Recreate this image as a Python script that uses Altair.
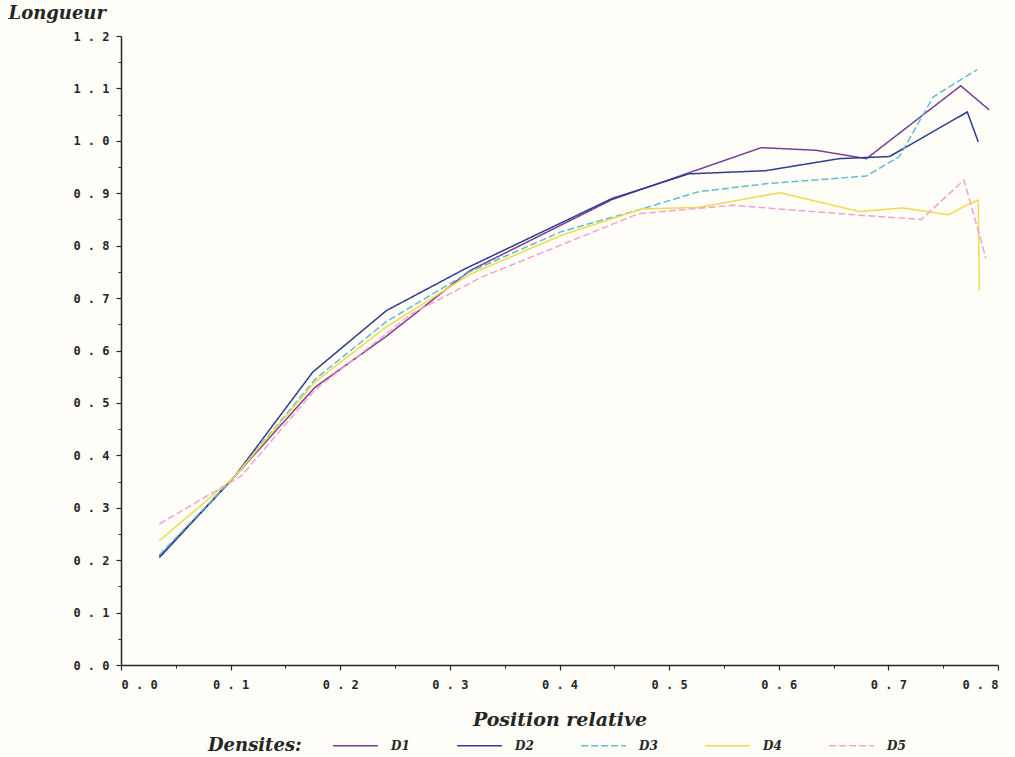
import altair as alt
import pandas as pd

# Series names
series = ["D1", "D2", "D3", "D4", "D5"]

# Relative position (x) and length (y) for each density
d1_x = [0.035, 0.103, 0.177, 0.242, 0.318, 0.448, 0.584, 0.634, 0.680, 0.766, 0.792]
d1_y = [0.207, 0.358, 0.530, 0.627, 0.752, 0.888, 0.987, 0.982, 0.966, 1.105, 1.059]

d2_x = [0.035, 0.103, 0.175, 0.242, 0.314, 0.448, 0.518, 0.588, 0.655, 0.701, 0.772, 0.782]
d2_y = [0.205, 0.358, 0.559, 0.676, 0.756, 0.890, 0.937, 0.943, 0.966, 0.970, 1.055, 0.998]

d3_x = [0.035, 0.103, 0.177, 0.242, 0.318, 0.402, 0.475, 0.527, 0.588, 0.680, 0.710, 0.741, 0.781]
d3_y = [0.210, 0.358, 0.545, 0.655, 0.750, 0.827, 0.870, 0.903, 0.918, 0.933, 0.970, 1.084, 1.136]

d4_x = [0.035, 0.103, 0.177, 0.242, 0.318, 0.402, 0.475, 0.527, 0.601, 0.674, 0.713, 0.755, 0.771, 0.782, 0.783]
d4_y = [0.237, 0.358, 0.540, 0.645, 0.745, 0.820, 0.870, 0.873, 0.901, 0.865, 0.872, 0.859, 0.877, 0.887, 0.715]

d5_x = [0.035, 0.110, 0.177, 0.265, 0.329, 0.472, 0.558, 0.674, 0.730, 0.769, 0.789]
d5_y = [0.269, 0.361, 0.525, 0.670, 0.740, 0.861, 0.877, 0.858, 0.850, 0.925, 0.776]

# Axis tick values
x_major = [0.0, 0.1, 0.2, 0.3, 0.4, 0.5, 0.6, 0.7, 0.8]
x_minor = [0.05, 0.15, 0.25, 0.35, 0.45, 0.55, 0.65, 0.75]
y_major = [0.0, 0.1, 0.2, 0.3, 0.4, 0.5, 0.6, 0.7, 0.8, 0.9, 1.0, 1.1, 1.2]
y_minor = [0.05, 0.15, 0.25, 0.35, 0.45, 0.55, 0.65, 0.75, 0.85, 0.95, 1.05, 1.15]

colors = ["#7a3d98", "#2b3d8c", "#62bccd", "#eedb4a", "#f3a2cf"]
dashes = [[1, 0], [1, 0], [7, 3], [1, 0], [7, 3]]

rows = []
for name, xs, ys in zip(series, [d1_x, d2_x, d3_x, d4_x, d5_x], [d1_y, d2_y, d3_y, d4_y, d5_y]):
    for i, (x, y) in enumerate(zip(xs, ys)):
        rows.append({"serie": name, "pos": x, "longueur": y, "ordre": i})
df = pd.DataFrame(rows)

TICK_FONT = "DejaVu Sans Mono"
TITLE_FONT = "DejaVu Serif"
INK = "#262626"
label_expr = "replace(format(datum.value, '.1f'), '.', ' . ')"

x_scale = alt.Scale(domain=[0, 0.8], nice=False, zero=False)
y_scale = alt.Scale(domain=[0, 1.2], nice=False, zero=False)

legend = alt.Legend(
    title="Densites:",
    orient="none",
    legendX=87,
    legendY=686,
    direction="horizontal",
    titleOrient="left",
    titleAnchor="middle",
    titleFont=TITLE_FONT,
    titleFontSize=18,
    titleFontStyle="italic",
    titleFontWeight="bold",
    titleColor=INK,
    titlePadding=30,
    titleBaseline="top",
    labelFont=TITLE_FONT,
    labelFontSize=12,
    labelFontStyle="italic",
    labelFontWeight="bold",
    labelColor=INK,
    labelOffset=12,
    symbolType="stroke",
    symbolSize=2000,
    symbolStrokeWidth=1.5,
    columnPadding=44,
)

lines = alt.Chart(df).mark_line(strokeWidth=1.5, clip=True).encode(
    x=alt.X(
        "pos:Q",
        scale=x_scale,
        axis=alt.Axis(
            values=x_major,
            orient="bottom",
            title="Position relative",
            titleFont=TITLE_FONT,
            titleFontSize=19,
            titleFontStyle="italic",
            titleFontWeight="bold",
            titleColor=INK,
            titleBaseline="middle",
            titleY=54,
            labelExpr=label_expr,
            labelFont=TICK_FONT,
            labelFontSize=12,
            labelFontWeight="bold",
            labelColor=INK,
            labelPadding=9,
            tickSize=5,
            tickColor=INK,
            tickWidth=1.2,
            domainColor=INK,
            domainWidth=1.5,
            grid=False,
        ),
    ),
    y=alt.Y(
        "longueur:Q",
        scale=y_scale,
        axis=alt.Axis(
            values=y_major,
            orient="left",
            title="Longueur",
            titleAngle=0,
            titleAlign="left",
            titleBaseline="alphabetic",
            titleX=-113,
            titleY=-18,
            titleFont=TITLE_FONT,
            titleFontSize=18,
            titleFontStyle="italic",
            titleFontWeight="bold",
            titleColor=INK,
            labelExpr=label_expr,
            labelFont=TICK_FONT,
            labelFontSize=12,
            labelFontWeight="bold",
            labelColor=INK,
            labelPadding=7,
            tickSize=5,
            tickColor=INK,
            tickWidth=1.2,
            domainColor=INK,
            domainWidth=1.5,
            grid=False,
        ),
    ),
    color=alt.Color("serie:N", scale=alt.Scale(domain=series, range=colors), legend=legend),
    strokeDash=alt.StrokeDash("serie:N", scale=alt.Scale(domain=series, range=dashes), legend=legend),
    order="ordre:Q",
)

# Minor ticks halfway between the labelled ones
minor = alt.Chart(df).mark_point(opacity=0).encode(
    x=alt.X(
        "pos:Q",
        scale=x_scale,
        axis=alt.Axis(values=x_minor, orient="bottom", labels=False, title=None,
                      domain=False, grid=False, tickSize=3, tickColor=INK, tickWidth=1),
    ),
    y=alt.Y(
        "longueur:Q",
        scale=y_scale,
        axis=alt.Axis(values=y_minor, orient="left", labels=False, title=None,
                      domain=False, grid=False, tickSize=3, tickColor=INK, tickWidth=1),
    ),
)

chart = (
    alt.layer(lines, minor)
    .resolve_axis(x="independent", y="independent")
    .properties(
        width=877,
        height=629,
        autosize=alt.AutoSizeParams(type="none"),
        padding={"left": 121, "top": 36, "right": 17, "bottom": 92},
        background="#fffef8",
    )
    .configure_view(stroke=None)
)

chart.save("out.html", embed_options={"renderer": "svg", "actions": False})
